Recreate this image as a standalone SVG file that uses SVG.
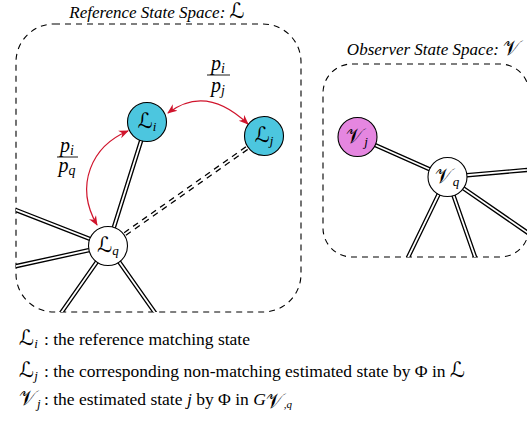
<svg xmlns="http://www.w3.org/2000/svg" width="527" height="424" viewBox="0 0 527 424">
<style>
.box{fill:none;stroke:#000;stroke-width:1.1;stroke-dasharray:6 5}
.eo{fill:none;stroke:#000;stroke-width:4.4}
.ei{fill:none;stroke:#fff;stroke-width:1.8}
.ed{stroke-dasharray:6 5}
.node{stroke:#000;stroke-width:1.1}
.cyan{fill:#4cc6df}
.mag{fill:#e586e0}
.white{fill:#fff}
.m{font-family:"DejaVu Serif","DejaVu Sans",serif;font-size:21px}
.it{font-family:"Liberation Serif",serif;font-style:italic}
.rm{font-family:"Liberation Serif",serif;font-size:17.5px}
.title{font-family:"Liberation Serif",serif;font-style:italic;font-size:17px}
.red{fill:none;stroke:#d0142c;stroke-width:1.2}
.fr{font-family:"Liberation Serif",serif;font-style:italic;font-size:20px}
</style>
<defs>
<marker id="ah" viewBox="0 0 10 10" refX="9" refY="5" markerWidth="10" markerHeight="10" markerUnits="userSpaceOnUse" orient="auto-start-reverse">
<path d="M0,1 L10,5 L0,9 L3,5 z" fill="#d0142c"/>
</marker>
<clipPath id="clipL"><rect x="16" y="24" width="285" height="288" rx="38"/></clipPath>
<clipPath id="clipV"><rect x="323" y="64" width="206" height="193" rx="29"/></clipPath>
</defs>

<g id="ref-space">
<rect class="box" x="16" y="24" width="285" height="288" rx="38"/>
<text class="title" x="157" y="18" text-anchor="middle">Reference State Space: <tspan class="m" font-size="18" font-style="normal">ℒ</tspan></text>
</g>
<g id="obs-space">
<rect class="box" x="323" y="64" width="206" height="193" rx="29"/>
<text class="title" x="434" y="55" text-anchor="middle">Observer State Space: <tspan class="m" font-size="17" font-style="normal">𝒱</tspan></text>
</g>

<g id="connectors">
<g clip-path="url(#clipL)">
<path class="eo" d="M108,246 L147,122 M108,246 L-20,196 M108,246 L-20,274 M108,246 L40,343 M108,246 L177,344"/>
<path class="ei" d="M108,246 L147,122 M108,246 L-20,196 M108,246 L-20,274 M108,246 L40,343 M108,246 L177,344"/>
<path class="eo ed" d="M125,234 L264,136"/>
<path class="ei" d="M108,246 L264,136"/>
</g>
<g clip-path="url(#clipV)">
<path class="eo" d="M447,177 L357,137 M447,177 L560,167 M447,177 L560,255 M447,177 L400,274 M447,177 L481,274"/>
<path class="ei" d="M447,177 L357,137 M447,177 L560,167 M447,177 L560,255 M447,177 L400,274 M447,177 L481,274"/>
</g>
<path class="red" d="M168,113 Q206,84 248,124" marker-start="url(#ah)" marker-end="url(#ah)"/>
<path class="red" d="M128,131 C92,146 74,185 97,225" marker-start="url(#ah)" marker-end="url(#ah)"/>
</g>

<g id="frac1">
<text class="fr" x="218" y="70" text-anchor="middle">p<tspan font-size="14" dy="3">i</tspan></text>
<line x1="207" y1="75" x2="230" y2="75" stroke="#000" stroke-width="0.9"/>
<text class="fr" x="218" y="92" text-anchor="middle">p<tspan font-size="14" dy="3">j</tspan></text>
</g>
<g id="frac2">
<text class="fr" x="67" y="152" text-anchor="middle">p<tspan font-size="14" dy="3">i</tspan></text>
<line x1="57" y1="157" x2="78" y2="157" stroke="#000" stroke-width="0.9"/>
<text class="fr" x="67" y="172" text-anchor="middle">p<tspan font-size="14" dy="3">q</tspan></text>
</g>

<g id="node-Li">
<circle class="node cyan" cx="147" cy="122" r="19.5"/>
<text class="m" x="147" y="128" text-anchor="middle">ℒ<tspan class="it" font-size="13" dy="3">i</tspan></text>
</g>
<g id="node-Lj">
<circle class="node cyan" cx="264" cy="136" r="19.5"/>
<text class="m" x="264" y="142" text-anchor="middle">ℒ<tspan class="it" font-size="13" dy="3">j</tspan></text>
</g>
<g id="node-Lq">
<circle class="node white" cx="108" cy="246" r="19.5"/>
<text class="m" x="108" y="252" text-anchor="middle">ℒ<tspan class="it" font-size="13" dy="3">q</tspan></text>
</g>
<g id="node-Vj">
<circle class="node mag" cx="357.5" cy="137" r="19.5"/>
<text class="m" x="357" y="143" font-size="19" text-anchor="middle">𝒱<tspan class="it" font-size="13" dy="3">j</tspan></text>
</g>
<g id="node-Vq">
<circle class="node white" cx="447.5" cy="177" r="19.5"/>
<text class="m" x="447" y="183" font-size="19" text-anchor="middle">𝒱<tspan class="it" font-size="13" dy="3">q</tspan></text>
</g>

<g id="legend">
<text class="m" x="19" y="345">ℒ<tspan class="it" font-size="13" dy="3">i</tspan></text>
<text class="rm" x="44" y="345">: the reference matching state</text>
<text class="m" x="19" y="377">ℒ<tspan class="it" font-size="13" dy="3">j</tspan></text>
<text class="rm" x="44" y="377">: the corresponding non-matching estimated state by Φ in <tspan class="m" font-size="19">ℒ</tspan></text>
<text class="m" x="19" y="405" font-size="19">𝒱<tspan class="it" font-size="13" dy="3">j</tspan></text>
<text class="rm" x="44" y="405">: the estimated state <tspan class="it">j</tspan> by Φ in <tspan class="it">G</tspan><tspan class="m" font-size="11" dy="3">𝒱</tspan><tspan class="it" font-size="11">,q</tspan></text>
</g>
</svg>
